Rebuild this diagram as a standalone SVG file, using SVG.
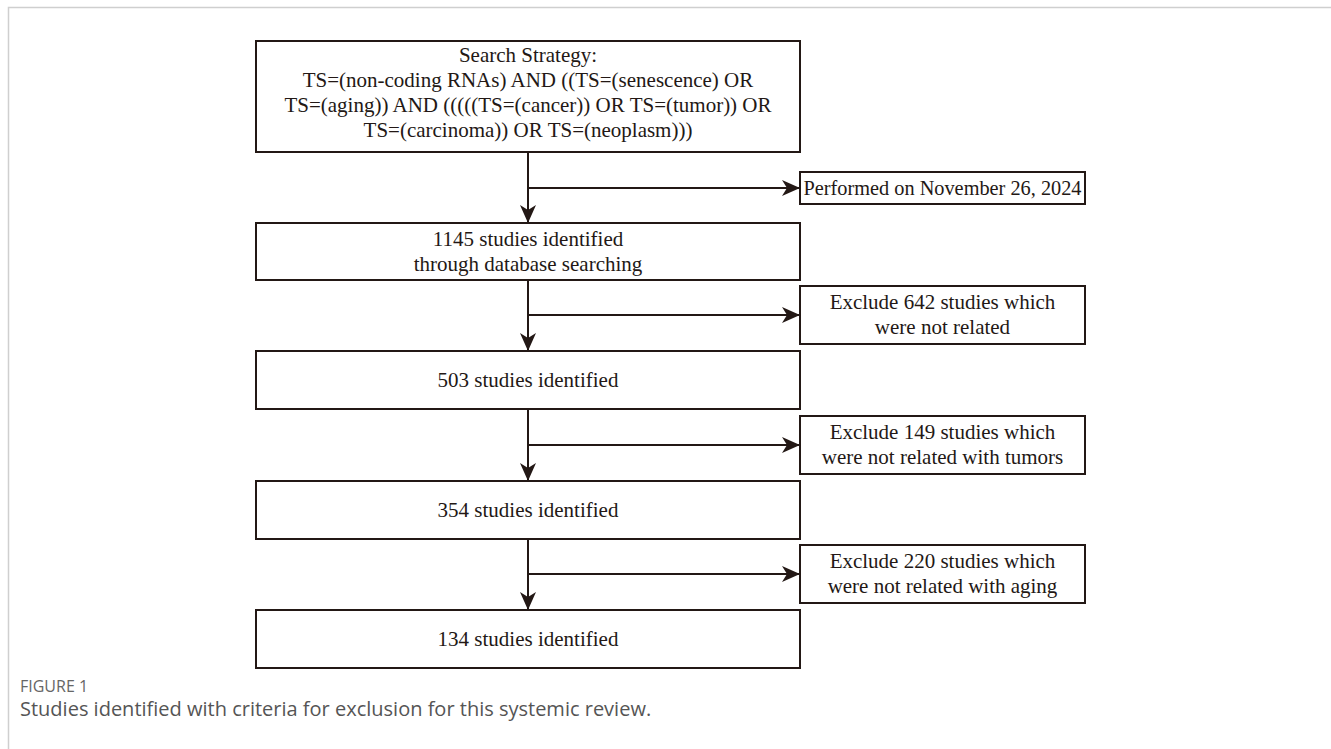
<svg xmlns="http://www.w3.org/2000/svg" width="1331" height="749" viewBox="0 0 1331 749">
<style>
.box{fill:#fff;stroke:#231815;stroke-width:2}
.t{font-family:"Liberation Serif","Times New Roman",serif;font-size:21px;fill:#231815;text-anchor:middle}
.ln{stroke:#231815;stroke-width:2;fill:none}
.cap1{font-family:"Open Sans","Noto Sans",sans-serif;font-size:16px;fill:#666}
.cap2{font-family:"Open Sans","Noto Sans",sans-serif;font-size:20px;fill:#555}
</style>
<defs>
<marker id="ah" markerWidth="18" markerHeight="16" refX="17" refY="8" orient="auto" markerUnits="userSpaceOnUse">
<path d="M0,0 L18,8 L0,16 L5,8 Z" fill="#231815"/>
</marker>
</defs>
<rect width="1331" height="749" fill="#fff"/>
<path d="M8.5,749 V7.5 H1331" fill="none" stroke="#cfcfcf" stroke-width="1.5"/>
<g id="connectors">
<line class="ln" x1="528" y1="152" x2="528" y2="222" marker-end="url(#ah)"/>
<line class="ln" x1="528" y1="188" x2="799" y2="188" marker-end="url(#ah)"/>
<line class="ln" x1="528" y1="280" x2="528" y2="350" marker-end="url(#ah)"/>
<line class="ln" x1="528" y1="315" x2="799" y2="315" marker-end="url(#ah)"/>
<line class="ln" x1="528" y1="409" x2="528" y2="480" marker-end="url(#ah)"/>
<line class="ln" x1="528" y1="445" x2="799" y2="445" marker-end="url(#ah)"/>
<line class="ln" x1="528" y1="539" x2="528" y2="609" marker-end="url(#ah)"/>
<line class="ln" x1="528" y1="574" x2="799" y2="574" marker-end="url(#ah)"/>
</g>
<g id="search">
<rect class="box" x="256" y="41" width="544" height="111"/>
<text class="t" x="528" y="62">Search Strategy:</text>
<text class="t" x="528" y="87">TS=(non-coding RNAs) AND ((TS=(senescence) OR</text>
<text class="t" x="528" y="112">TS=(aging)) AND (((((TS=(cancer)) OR TS=(tumor)) OR</text>
<text class="t" x="528" y="137">TS=(carcinoma)) OR TS=(neoplasm)))</text>
</g>
<g id="performed">
<rect class="box" x="800" y="172" width="285" height="32"/>
<text class="t" x="942.5" y="195" textLength="278" lengthAdjust="spacingAndGlyphs">Performed on November 26, 2024</text>
</g>
<g id="n1145">
<rect class="box" x="256" y="223" width="544" height="57"/>
<text class="t" x="528" y="246">1145 studies identified</text>
<text class="t" x="528" y="271">through database searching</text>
</g>
<g id="ex642">
<rect class="box" x="800" y="286" width="285" height="58"/>
<text class="t" x="942.5" y="309">Exclude 642 studies which</text>
<text class="t" x="942.5" y="334">were not related</text>
</g>
<g id="n503">
<rect class="box" x="256" y="351" width="544" height="58"/>
<text class="t" x="528" y="387">503 studies identified</text>
</g>
<g id="ex149">
<rect class="box" x="800" y="416" width="285" height="58"/>
<text class="t" x="942.5" y="439">Exclude 149 studies which</text>
<text class="t" x="942.5" y="464">were not related with tumors</text>
</g>
<g id="n354">
<rect class="box" x="256" y="481" width="544" height="58"/>
<text class="t" x="528" y="517">354 studies identified</text>
</g>
<g id="ex220">
<rect class="box" x="800" y="545" width="285" height="58"/>
<text class="t" x="942.5" y="568">Exclude 220 studies which</text>
<text class="t" x="942.5" y="593">were not related with aging</text>
</g>
<g id="n134">
<rect class="box" x="256" y="610" width="544" height="58"/>
<text class="t" x="528" y="646">134 studies identified</text>
</g>
<g id="caption">
<text class="cap1" x="20" y="692">FIGURE 1</text>
<text class="cap2" x="20" y="716">Studies identified with criteria for exclusion for this systemic review.</text>
</g>
</svg>
